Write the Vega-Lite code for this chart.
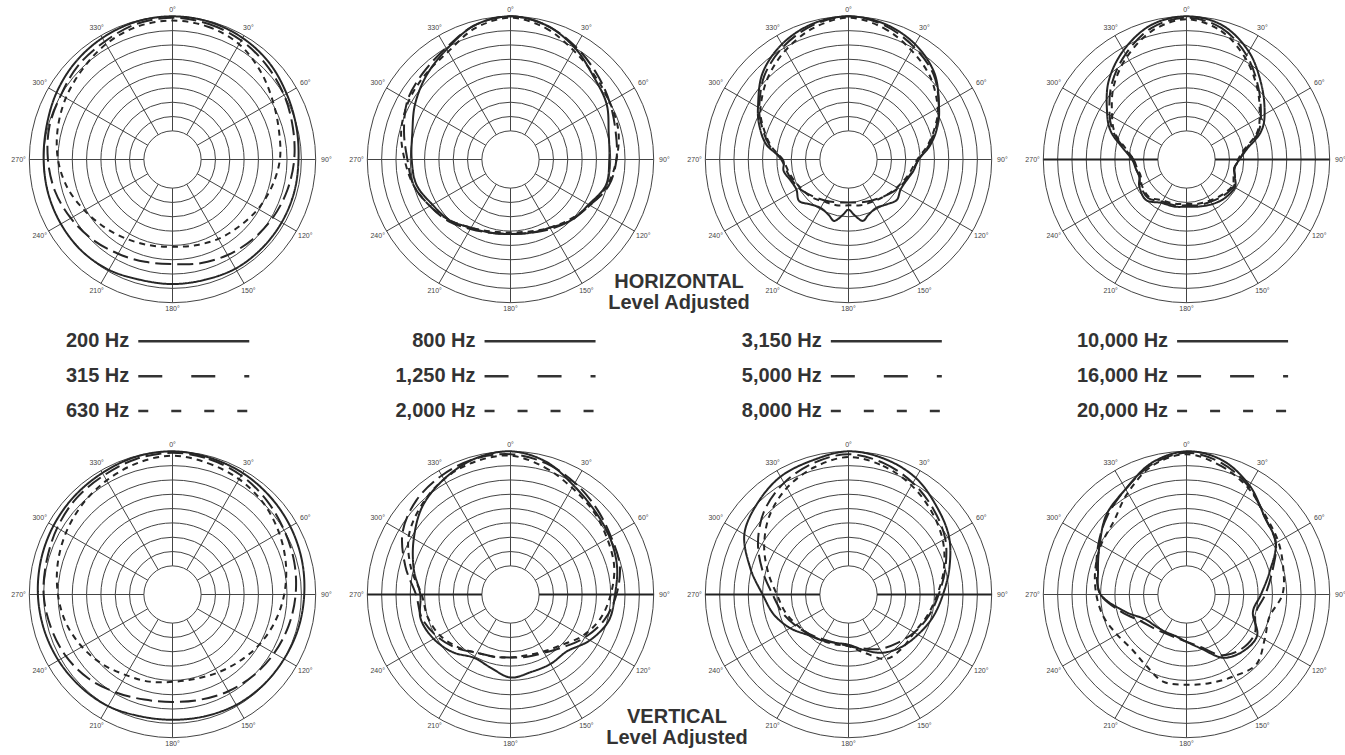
{
"$schema": "https://vega.github.io/schema/vega-lite/v6.json",
"background": "white",
"padding": {"left": 11, "top": 2, "right": 0, "bottom": 0},
"config": {"view": {"stroke": null}},
"datasets": {
"rings": [{"db":0},{"db":-5},{"db":-10},{"db":-15},{"db":-20},{"db":-25},{"db":-30},{"db":-35},{"db":-40}],
"spokes": [{"a":0,"t":"0°"},{"a":30,"t":"30°"},{"a":60,"t":"60°"},{"a":90,"t":"90°"},{"a":120,"t":"120°"},{"a":150,"t":"150°"},{"a":180,"t":"180°"},{"a":210,"t":"210°"},{"a":240,"t":"240°"},{"a":270,"t":"270°"},{"a":300,"t":"300°"},{"a":330,"t":"330°"}],
"legend": [
{"g":1,"k":1,"label":"200 Hz"},{"g":1,"k":2,"label":"315 Hz"},{"g":1,"k":3,"label":"630 Hz"},
{"g":2,"k":1,"label":"800 Hz"},{"g":2,"k":2,"label":"1,250 Hz"},{"g":2,"k":3,"label":"2,000 Hz"},
{"g":3,"k":1,"label":"3,150 Hz"},{"g":3,"k":2,"label":"5,000 Hz"},{"g":3,"k":3,"label":"8,000 Hz"},
{"g":4,"k":1,"label":"10,000 Hz"},{"g":4,"k":2,"label":"16,000 Hz"},{"g":4,"k":3,"label":"20,000 Hz"}],
"curves": [
{"p":1,"k":1,"a":0,"db":0},{"p":1,"k":1,"a":15,"db":-0.25},{"p":1,"k":1,"a":30,"db":-1},{"p":1,"k":1,"a":45,"db":-2.25},{"p":1,"k":1,"a":60,"db":-4},{"p":1,"k":1,"a":75,"db":-5.25},{"p":1,"k":1,"a":90,"db":-6},{"p":1,"k":1,"a":105,"db":-6},{"p":1,"k":1,"a":120,"db":-6},{"p":1,"k":1,"a":135,"db":-6},{"p":1,"k":1,"a":150,"db":-6},{"p":1,"k":1,"a":165,"db":-6.5},{"p":1,"k":1,"a":180,"db":-6.5},{"p":1,"k":1,"a":195,"db":-6.5},{"p":1,"k":1,"a":210,"db":-5.5},{"p":1,"k":1,"a":225,"db":-5},{"p":1,"k":1,"a":240,"db":-5},{"p":1,"k":1,"a":255,"db":-5},{"p":1,"k":1,"a":270,"db":-5},{"p":1,"k":1,"a":285,"db":-4.5},{"p":1,"k":1,"a":300,"db":-3.25},{"p":1,"k":1,"a":315,"db":-2},{"p":1,"k":1,"a":330,"db":-1},{"p":1,"k":1,"a":345,"db":-0.25},
{"p":1,"k":2,"a":0,"db":-0.5},{"p":1,"k":2,"a":15,"db":-1},{"p":1,"k":2,"a":30,"db":-2},{"p":1,"k":2,"a":45,"db":-3.5},{"p":1,"k":2,"a":60,"db":-5},{"p":1,"k":2,"a":75,"db":-6.5},{"p":1,"k":2,"a":90,"db":-7.5},{"p":1,"k":2,"a":105,"db":-8.5},{"p":1,"k":2,"a":120,"db":-9.5},{"p":1,"k":2,"a":135,"db":-10.5},{"p":1,"k":2,"a":150,"db":-11.5},{"p":1,"k":2,"a":165,"db":-12.5},{"p":1,"k":2,"a":180,"db":-13.5},{"p":1,"k":2,"a":195,"db":-13},{"p":1,"k":2,"a":210,"db":-12},{"p":1,"k":2,"a":225,"db":-10.5},{"p":1,"k":2,"a":240,"db":-9},{"p":1,"k":2,"a":255,"db":-7.5},{"p":1,"k":2,"a":270,"db":-6.5},{"p":1,"k":2,"a":285,"db":-5.5},{"p":1,"k":2,"a":300,"db":-5},{"p":1,"k":2,"a":315,"db":-3.5},{"p":1,"k":2,"a":330,"db":-2.5},{"p":1,"k":2,"a":345,"db":-1},
{"p":1,"k":3,"a":0,"db":-1.5},{"p":1,"k":3,"a":15,"db":-2},{"p":1,"k":3,"a":30,"db":-3.5},{"p":1,"k":3,"a":45,"db":-6.5},{"p":1,"k":3,"a":60,"db":-9.5},{"p":1,"k":3,"a":75,"db":-11.5},{"p":1,"k":3,"a":90,"db":-12.5},{"p":1,"k":3,"a":105,"db":-14},{"p":1,"k":3,"a":120,"db":-15.5},{"p":1,"k":3,"a":135,"db":-17},{"p":1,"k":3,"a":150,"db":-18},{"p":1,"k":3,"a":165,"db":-19},{"p":1,"k":3,"a":180,"db":-19.5},{"p":1,"k":3,"a":195,"db":-19},{"p":1,"k":3,"a":210,"db":-18},{"p":1,"k":3,"a":225,"db":-16.5},{"p":1,"k":3,"a":240,"db":-14.5},{"p":1,"k":3,"a":255,"db":-12},{"p":1,"k":3,"a":270,"db":-10},{"p":1,"k":3,"a":285,"db":-8.5},{"p":1,"k":3,"a":300,"db":-7},{"p":1,"k":3,"a":315,"db":-5.5},{"p":1,"k":3,"a":330,"db":-3.5},{"p":1,"k":3,"a":345,"db":-2},
{"p":2,"k":1,"a":0,"db":0},{"p":2,"k":1,"a":15,"db":-1.5},{"p":2,"k":1,"a":30,"db":-5},{"p":2,"k":1,"a":45,"db":-9},{"p":2,"k":1,"a":60,"db":-11.25},{"p":2,"k":1,"a":75,"db":-14.5},{"p":2,"k":1,"a":90,"db":-15.5},{"p":2,"k":1,"a":105,"db":-15.5},{"p":2,"k":1,"a":120,"db":-18.5},{"p":2,"k":1,"a":135,"db":-20},{"p":2,"k":1,"a":150,"db":-22.5},{"p":2,"k":1,"a":165,"db":-23.5},{"p":2,"k":1,"a":180,"db":-24},{"p":2,"k":1,"a":195,"db":-23.5},{"p":2,"k":1,"a":210,"db":-22.5},{"p":2,"k":1,"a":225,"db":-20},{"p":2,"k":1,"a":240,"db":-18.5},{"p":2,"k":1,"a":255,"db":-16},{"p":2,"k":1,"a":270,"db":-15.5},{"p":2,"k":1,"a":285,"db":-14.5},{"p":2,"k":1,"a":300,"db":-11.5},{"p":2,"k":1,"a":315,"db":-8.5},{"p":2,"k":1,"a":330,"db":-5.5},{"p":2,"k":1,"a":345,"db":-1.5},
{"p":2,"k":2,"a":0,"db":0},{"p":2,"k":2,"a":15,"db":-1.5},{"p":2,"k":2,"a":30,"db":-4.5},{"p":2,"k":2,"a":45,"db":-7.5},{"p":2,"k":2,"a":60,"db":-10},{"p":2,"k":2,"a":75,"db":-12},{"p":2,"k":2,"a":90,"db":-13},{"p":2,"k":2,"a":105,"db":-14.5},{"p":2,"k":2,"a":120,"db":-18},{"p":2,"k":2,"a":135,"db":-20},{"p":2,"k":2,"a":150,"db":-22},{"p":2,"k":2,"a":165,"db":-23.5},{"p":2,"k":2,"a":180,"db":-24},{"p":2,"k":2,"a":195,"db":-23.5},{"p":2,"k":2,"a":210,"db":-22},{"p":2,"k":2,"a":225,"db":-19.5},{"p":2,"k":2,"a":240,"db":-17.5},{"p":2,"k":2,"a":255,"db":-15},{"p":2,"k":2,"a":270,"db":-14},{"p":2,"k":2,"a":285,"db":-11.5},{"p":2,"k":2,"a":300,"db":-8.5},{"p":2,"k":2,"a":315,"db":-7},{"p":2,"k":2,"a":330,"db":-5},{"p":2,"k":2,"a":345,"db":-1.5},
{"p":2,"k":3,"a":0,"db":-0.5},{"p":2,"k":3,"a":15,"db":-2.5},{"p":2,"k":3,"a":30,"db":-6},{"p":2,"k":3,"a":45,"db":-8.5},{"p":2,"k":3,"a":60,"db":-10},{"p":2,"k":3,"a":75,"db":-11},{"p":2,"k":3,"a":90,"db":-13},{"p":2,"k":3,"a":105,"db":-15},{"p":2,"k":3,"a":120,"db":-18},{"p":2,"k":3,"a":135,"db":-20.5},{"p":2,"k":3,"a":150,"db":-22.5},{"p":2,"k":3,"a":165,"db":-24},{"p":2,"k":3,"a":180,"db":-24.5},{"p":2,"k":3,"a":195,"db":-24},{"p":2,"k":3,"a":210,"db":-22.5},{"p":2,"k":3,"a":225,"db":-20},{"p":2,"k":3,"a":240,"db":-17.5},{"p":2,"k":3,"a":255,"db":-15},{"p":2,"k":3,"a":270,"db":-13},{"p":2,"k":3,"a":285,"db":-10.5},{"p":2,"k":3,"a":300,"db":-9},{"p":2,"k":3,"a":315,"db":-8},{"p":2,"k":3,"a":330,"db":-6.5},{"p":2,"k":3,"a":345,"db":-2.5},
{"p":3,"k":1,"a":0,"db":0},{"p":3,"k":1,"a":15,"db":-1},{"p":3,"k":1,"a":30,"db":-3.5},{"p":3,"k":1,"a":45,"db":-7.5},{"p":3,"k":1,"a":60,"db":-13.5},{"p":3,"k":1,"a":70,"db":-17},{"p":3,"k":1,"a":80,"db":-21},{"p":3,"k":1,"a":90,"db":-25.5},{"p":3,"k":1,"a":100,"db":-27},{"p":3,"k":1,"a":110,"db":-28.5},{"p":3,"k":1,"a":120,"db":-29},{"p":3,"k":1,"a":130,"db":-28},{"p":3,"k":1,"a":140,"db":-29.5},{"p":3,"k":1,"a":150,"db":-30.5},{"p":3,"k":1,"a":160,"db":-29.5},{"p":3,"k":1,"a":167,"db":-28},{"p":3,"k":1,"a":174,"db":-30.5},{"p":3,"k":1,"a":180,"db":-32.5},{"p":3,"k":1,"a":186,"db":-30.5},{"p":3,"k":1,"a":193,"db":-28},{"p":3,"k":1,"a":200,"db":-29.5},{"p":3,"k":1,"a":210,"db":-30.5},{"p":3,"k":1,"a":220,"db":-29.5},{"p":3,"k":1,"a":230,"db":-27.5},{"p":3,"k":1,"a":240,"db":-29},{"p":3,"k":1,"a":250,"db":-28.5},{"p":3,"k":1,"a":260,"db":-27},{"p":3,"k":1,"a":270,"db":-27},{"p":3,"k":1,"a":280,"db":-21},{"p":3,"k":1,"a":290,"db":-17},{"p":3,"k":1,"a":300,"db":-13.5},{"p":3,"k":1,"a":315,"db":-7.5},{"p":3,"k":1,"a":330,"db":-3.5},{"p":3,"k":1,"a":345,"db":-1},
{"p":3,"k":2,"a":0,"db":0},{"p":3,"k":2,"a":15,"db":-1.5},{"p":3,"k":2,"a":30,"db":-4.5},{"p":3,"k":2,"a":45,"db":-8},{"p":3,"k":2,"a":60,"db":-13.5},{"p":3,"k":2,"a":70,"db":-17.5},{"p":3,"k":2,"a":80,"db":-21.5},{"p":3,"k":2,"a":90,"db":-25.5},{"p":3,"k":2,"a":105,"db":-28},{"p":3,"k":2,"a":120,"db":-30},{"p":3,"k":2,"a":135,"db":-32},{"p":3,"k":2,"a":150,"db":-33.5},{"p":3,"k":2,"a":165,"db":-34.5},{"p":3,"k":2,"a":180,"db":-35},{"p":3,"k":2,"a":195,"db":-34.5},{"p":3,"k":2,"a":210,"db":-33.5},{"p":3,"k":2,"a":225,"db":-32},{"p":3,"k":2,"a":240,"db":-30},{"p":3,"k":2,"a":255,"db":-28.5},{"p":3,"k":2,"a":270,"db":-26.5},{"p":3,"k":2,"a":280,"db":-22},{"p":3,"k":2,"a":290,"db":-18},{"p":3,"k":2,"a":300,"db":-14},{"p":3,"k":2,"a":315,"db":-8.5},{"p":3,"k":2,"a":330,"db":-4.5},{"p":3,"k":2,"a":345,"db":-1.5},
{"p":3,"k":3,"a":0,"db":-0.5},{"p":3,"k":3,"a":15,"db":-2.5},{"p":3,"k":3,"a":30,"db":-6},{"p":3,"k":3,"a":45,"db":-9.5},{"p":3,"k":3,"a":60,"db":-14},{"p":3,"k":3,"a":70,"db":-18},{"p":3,"k":3,"a":80,"db":-22},{"p":3,"k":3,"a":90,"db":-26},{"p":3,"k":3,"a":105,"db":-28.5},{"p":3,"k":3,"a":120,"db":-30.5},{"p":3,"k":3,"a":135,"db":-32},{"p":3,"k":3,"a":150,"db":-33},{"p":3,"k":3,"a":165,"db":-33.5},{"p":3,"k":3,"a":180,"db":-34},{"p":3,"k":3,"a":195,"db":-33.5},{"p":3,"k":3,"a":210,"db":-33},{"p":3,"k":3,"a":225,"db":-31.5},{"p":3,"k":3,"a":240,"db":-30.5},{"p":3,"k":3,"a":255,"db":-29},{"p":3,"k":3,"a":270,"db":-27},{"p":3,"k":3,"a":280,"db":-22.5},{"p":3,"k":3,"a":290,"db":-18.5},{"p":3,"k":3,"a":300,"db":-14.5},{"p":3,"k":3,"a":315,"db":-10},{"p":3,"k":3,"a":330,"db":-6},{"p":3,"k":3,"a":345,"db":-2.5},
{"p":4,"k":1,"a":0,"db":0},{"p":4,"k":1,"a":15,"db":-1.5},{"p":4,"k":1,"a":30,"db":-6.5},{"p":4,"k":1,"a":45,"db":-13},{"p":4,"k":1,"a":60,"db":-18.5},{"p":4,"k":1,"a":70,"db":-22.5},{"p":4,"k":1,"a":80,"db":-28.5},{"p":4,"k":1,"a":90,"db":-31.5},{"p":4,"k":1,"a":100,"db":-33},{"p":4,"k":1,"a":110,"db":-32},{"p":4,"k":1,"a":120,"db":-30.5},{"p":4,"k":1,"a":135,"db":-31},{"p":4,"k":1,"a":150,"db":-32},{"p":4,"k":1,"a":165,"db":-33},{"p":4,"k":1,"a":180,"db":-33.5},{"p":4,"k":1,"a":195,"db":-33},{"p":4,"k":1,"a":210,"db":-32.5},{"p":4,"k":1,"a":225,"db":-30},{"p":4,"k":1,"a":240,"db":-31},{"p":4,"k":1,"a":250,"db":-32.5},{"p":4,"k":1,"a":260,"db":-32},{"p":4,"k":1,"a":270,"db":-31},{"p":4,"k":1,"a":280,"db":-27.5},{"p":4,"k":1,"a":290,"db":-22},{"p":4,"k":1,"a":300,"db":-18},{"p":4,"k":1,"a":315,"db":-11.5},{"p":4,"k":1,"a":330,"db":-6},{"p":4,"k":1,"a":345,"db":-1.5},
{"p":4,"k":2,"a":0,"db":-0.5},{"p":4,"k":2,"a":15,"db":-2.5},{"p":4,"k":2,"a":30,"db":-8},{"p":4,"k":2,"a":45,"db":-14.5},{"p":4,"k":2,"a":60,"db":-20},{"p":4,"k":2,"a":70,"db":-23.5},{"p":4,"k":2,"a":80,"db":-29},{"p":4,"k":2,"a":90,"db":-31.5},{"p":4,"k":2,"a":100,"db":-33},{"p":4,"k":2,"a":110,"db":-32},{"p":4,"k":2,"a":120,"db":-31},{"p":4,"k":2,"a":135,"db":-32},{"p":4,"k":2,"a":150,"db":-33},{"p":4,"k":2,"a":165,"db":-33.5},{"p":4,"k":2,"a":180,"db":-34},{"p":4,"k":2,"a":195,"db":-33.5},{"p":4,"k":2,"a":210,"db":-33},{"p":4,"k":2,"a":225,"db":-31},{"p":4,"k":2,"a":240,"db":-31.5},{"p":4,"k":2,"a":250,"db":-32.5},{"p":4,"k":2,"a":260,"db":-32},{"p":4,"k":2,"a":270,"db":-31.5},{"p":4,"k":2,"a":280,"db":-28},{"p":4,"k":2,"a":290,"db":-23},{"p":4,"k":2,"a":300,"db":-19},{"p":4,"k":2,"a":315,"db":-13},{"p":4,"k":2,"a":330,"db":-7.5},{"p":4,"k":2,"a":345,"db":-2.5},
{"p":4,"k":3,"a":0,"db":-1},{"p":4,"k":3,"a":15,"db":-3.5},{"p":4,"k":3,"a":30,"db":-9},{"p":4,"k":3,"a":45,"db":-15},{"p":4,"k":3,"a":60,"db":-20.5},{"p":4,"k":3,"a":70,"db":-24},{"p":4,"k":3,"a":80,"db":-29.5},{"p":4,"k":3,"a":90,"db":-32},{"p":4,"k":3,"a":100,"db":-33},{"p":4,"k":3,"a":110,"db":-32.5},{"p":4,"k":3,"a":120,"db":-31.5},{"p":4,"k":3,"a":135,"db":-32.5},{"p":4,"k":3,"a":150,"db":-33.5},{"p":4,"k":3,"a":165,"db":-34},{"p":4,"k":3,"a":180,"db":-34.5},{"p":4,"k":3,"a":195,"db":-34},{"p":4,"k":3,"a":210,"db":-33.5},{"p":4,"k":3,"a":225,"db":-31.5},{"p":4,"k":3,"a":240,"db":-32},{"p":4,"k":3,"a":250,"db":-33},{"p":4,"k":3,"a":260,"db":-32.5},{"p":4,"k":3,"a":270,"db":-31.5},{"p":4,"k":3,"a":280,"db":-28.5},{"p":4,"k":3,"a":290,"db":-23.5},{"p":4,"k":3,"a":300,"db":-20},{"p":4,"k":3,"a":315,"db":-14},{"p":4,"k":3,"a":330,"db":-8.5},{"p":4,"k":3,"a":345,"db":-3.5},
{"p":5,"k":1,"a":0,"db":0},{"p":5,"k":1,"a":15,"db":-0.5},{"p":5,"k":1,"a":30,"db":-1},{"p":5,"k":1,"a":45,"db":-1.75},{"p":5,"k":1,"a":60,"db":-2.5},{"p":5,"k":1,"a":75,"db":-3.25},{"p":5,"k":1,"a":90,"db":-4},{"p":5,"k":1,"a":105,"db":-4.5},{"p":5,"k":1,"a":120,"db":-5},{"p":5,"k":1,"a":135,"db":-5.25},{"p":5,"k":1,"a":150,"db":-5.5},{"p":5,"k":1,"a":165,"db":-6},{"p":5,"k":1,"a":180,"db":-6.25},{"p":5,"k":1,"a":195,"db":-6},{"p":5,"k":1,"a":210,"db":-5},{"p":5,"k":1,"a":225,"db":-4.5},{"p":5,"k":1,"a":240,"db":-4},{"p":5,"k":1,"a":255,"db":-3.5},{"p":5,"k":1,"a":270,"db":-3},{"p":5,"k":1,"a":285,"db":-2.5},{"p":5,"k":1,"a":300,"db":-2},{"p":5,"k":1,"a":315,"db":-1.5},{"p":5,"k":1,"a":330,"db":-1},{"p":5,"k":1,"a":345,"db":-0.25},
{"p":5,"k":2,"a":0,"db":-0.5},{"p":5,"k":2,"a":15,"db":-1},{"p":5,"k":2,"a":30,"db":-2},{"p":5,"k":2,"a":45,"db":-3.5},{"p":5,"k":2,"a":60,"db":-5},{"p":5,"k":2,"a":75,"db":-6},{"p":5,"k":2,"a":90,"db":-7},{"p":5,"k":2,"a":105,"db":-8},{"p":5,"k":2,"a":120,"db":-9},{"p":5,"k":2,"a":135,"db":-10},{"p":5,"k":2,"a":150,"db":-11},{"p":5,"k":2,"a":165,"db":-12},{"p":5,"k":2,"a":180,"db":-12.5},{"p":5,"k":2,"a":195,"db":-12},{"p":5,"k":2,"a":210,"db":-10.5},{"p":5,"k":2,"a":225,"db":-8.5},{"p":5,"k":2,"a":240,"db":-7},{"p":5,"k":2,"a":255,"db":-6},{"p":5,"k":2,"a":270,"db":-5},{"p":5,"k":2,"a":285,"db":-4.5},{"p":5,"k":2,"a":300,"db":-3.5},{"p":5,"k":2,"a":315,"db":-2.5},{"p":5,"k":2,"a":330,"db":-2},{"p":5,"k":2,"a":345,"db":-1},
{"p":5,"k":3,"a":0,"db":-1.5},{"p":5,"k":3,"a":15,"db":-2.5},{"p":5,"k":3,"a":30,"db":-3.5},{"p":5,"k":3,"a":45,"db":-5},{"p":5,"k":3,"a":60,"db":-7},{"p":5,"k":3,"a":75,"db":-9},{"p":5,"k":3,"a":90,"db":-11},{"p":5,"k":3,"a":105,"db":-13},{"p":5,"k":3,"a":120,"db":-15},{"p":5,"k":3,"a":135,"db":-17},{"p":5,"k":3,"a":150,"db":-18.5},{"p":5,"k":3,"a":165,"db":-19.5},{"p":5,"k":3,"a":180,"db":-19.5},{"p":5,"k":3,"a":195,"db":-18.5},{"p":5,"k":3,"a":210,"db":-17.5},{"p":5,"k":3,"a":225,"db":-15.5},{"p":5,"k":3,"a":240,"db":-13.5},{"p":5,"k":3,"a":255,"db":-11.5},{"p":5,"k":3,"a":270,"db":-10},{"p":5,"k":3,"a":285,"db":-8.5},{"p":5,"k":3,"a":300,"db":-7},{"p":5,"k":3,"a":315,"db":-5.5},{"p":5,"k":3,"a":330,"db":-4},{"p":5,"k":3,"a":345,"db":-2.5},
{"p":6,"k":1,"a":0,"db":0},{"p":6,"k":1,"a":15,"db":-2},{"p":6,"k":1,"a":30,"db":-6},{"p":6,"k":1,"a":45,"db":-8.5},{"p":6,"k":1,"a":60,"db":-10},{"p":6,"k":1,"a":75,"db":-11.5},{"p":6,"k":1,"a":90,"db":-13.5},{"p":6,"k":1,"a":105,"db":-14.5},{"p":6,"k":1,"a":120,"db":-18},{"p":6,"k":1,"a":135,"db":-22},{"p":6,"k":1,"a":150,"db":-22},{"p":6,"k":1,"a":165,"db":-22},{"p":6,"k":1,"a":180,"db":-21},{"p":6,"k":1,"a":195,"db":-23.5},{"p":6,"k":1,"a":210,"db":-24.5},{"p":6,"k":1,"a":225,"db":-21.5},{"p":6,"k":1,"a":240,"db":-19},{"p":6,"k":1,"a":255,"db":-17.5},{"p":6,"k":1,"a":270,"db":-18.5},{"p":6,"k":1,"a":285,"db":-15},{"p":6,"k":1,"a":300,"db":-11},{"p":6,"k":1,"a":315,"db":-6.5},{"p":6,"k":1,"a":330,"db":-3.5},{"p":6,"k":1,"a":345,"db":-1},
{"p":6,"k":2,"a":0,"db":-1},{"p":6,"k":2,"a":15,"db":-2.5},{"p":6,"k":2,"a":30,"db":-5},{"p":6,"k":2,"a":45,"db":-7.5},{"p":6,"k":2,"a":60,"db":-9.5},{"p":6,"k":2,"a":75,"db":-10.5},{"p":6,"k":2,"a":90,"db":-13},{"p":6,"k":2,"a":105,"db":-16},{"p":6,"k":2,"a":120,"db":-20},{"p":6,"k":2,"a":135,"db":-24},{"p":6,"k":2,"a":150,"db":-26.5},{"p":6,"k":2,"a":165,"db":-27.5},{"p":6,"k":2,"a":180,"db":-28},{"p":6,"k":2,"a":195,"db":-27.5},{"p":6,"k":2,"a":210,"db":-26.5},{"p":6,"k":2,"a":225,"db":-23.5},{"p":6,"k":2,"a":240,"db":-20.5},{"p":6,"k":2,"a":255,"db":-18},{"p":6,"k":2,"a":270,"db":-17},{"p":6,"k":2,"a":285,"db":-12},{"p":6,"k":2,"a":300,"db":-6.5},{"p":6,"k":2,"a":315,"db":-3.5},{"p":6,"k":2,"a":330,"db":-2},{"p":6,"k":2,"a":345,"db":-1},
{"p":6,"k":3,"a":0,"db":-1.5},{"p":6,"k":3,"a":15,"db":-4},{"p":6,"k":3,"a":30,"db":-7},{"p":6,"k":3,"a":45,"db":-9},{"p":6,"k":3,"a":60,"db":-11},{"p":6,"k":3,"a":75,"db":-12.5},{"p":6,"k":3,"a":90,"db":-15},{"p":6,"k":3,"a":105,"db":-17.5},{"p":6,"k":3,"a":120,"db":-21},{"p":6,"k":3,"a":135,"db":-25},{"p":6,"k":3,"a":150,"db":-27},{"p":6,"k":3,"a":165,"db":-28},{"p":6,"k":3,"a":180,"db":-28},{"p":6,"k":3,"a":195,"db":-27.5},{"p":6,"k":3,"a":210,"db":-26.5},{"p":6,"k":3,"a":225,"db":-24},{"p":6,"k":3,"a":240,"db":-21.5},{"p":6,"k":3,"a":255,"db":-20},{"p":6,"k":3,"a":270,"db":-19},{"p":6,"k":3,"a":285,"db":-14},{"p":6,"k":3,"a":300,"db":-9},{"p":6,"k":3,"a":315,"db":-6},{"p":6,"k":3,"a":330,"db":-3.5},{"p":6,"k":3,"a":345,"db":-2},
{"p":7,"k":1,"a":0,"db":0},{"p":7,"k":1,"a":15,"db":-1},{"p":7,"k":1,"a":30,"db":-3},{"p":7,"k":1,"a":45,"db":-6.5},{"p":7,"k":1,"a":60,"db":-9.5},{"p":7,"k":1,"a":75,"db":-13.5},{"p":7,"k":1,"a":90,"db":-17},{"p":7,"k":1,"a":105,"db":-19.5},{"p":7,"k":1,"a":120,"db":-22},{"p":7,"k":1,"a":135,"db":-24},{"p":7,"k":1,"a":150,"db":-26.5},{"p":7,"k":1,"a":165,"db":-30},{"p":7,"k":1,"a":180,"db":-32.5},{"p":7,"k":1,"a":195,"db":-32.5},{"p":7,"k":1,"a":210,"db":-31.5},{"p":7,"k":1,"a":225,"db":-30},{"p":7,"k":1,"a":240,"db":-26.5},{"p":7,"k":1,"a":255,"db":-23},{"p":7,"k":1,"a":270,"db":-20},{"p":7,"k":1,"a":285,"db":-14.5},{"p":7,"k":1,"a":300,"db":-8},{"p":7,"k":1,"a":315,"db":-5},{"p":7,"k":1,"a":330,"db":-2.5},{"p":7,"k":1,"a":345,"db":-1.5},
{"p":7,"k":2,"a":0,"db":-1},{"p":7,"k":2,"a":15,"db":-2.5},{"p":7,"k":2,"a":30,"db":-5},{"p":7,"k":2,"a":45,"db":-8},{"p":7,"k":2,"a":60,"db":-11},{"p":7,"k":2,"a":75,"db":-15},{"p":7,"k":2,"a":90,"db":-18.5},{"p":7,"k":2,"a":105,"db":-21},{"p":7,"k":2,"a":120,"db":-23.5},{"p":7,"k":2,"a":135,"db":-26},{"p":7,"k":2,"a":150,"db":-28},{"p":7,"k":2,"a":165,"db":-30.5},{"p":7,"k":2,"a":180,"db":-32},{"p":7,"k":2,"a":195,"db":-32.5},{"p":7,"k":2,"a":210,"db":-32},{"p":7,"k":2,"a":225,"db":-30.5},{"p":7,"k":2,"a":240,"db":-28.5},{"p":7,"k":2,"a":255,"db":-26},{"p":7,"k":2,"a":270,"db":-23.5},{"p":7,"k":2,"a":285,"db":-19},{"p":7,"k":2,"a":300,"db":-13.5},{"p":7,"k":2,"a":315,"db":-8.5},{"p":7,"k":2,"a":330,"db":-5},{"p":7,"k":2,"a":345,"db":-2.5},
{"p":7,"k":3,"a":0,"db":-2},{"p":7,"k":3,"a":15,"db":-3.5},{"p":7,"k":3,"a":30,"db":-6},{"p":7,"k":3,"a":45,"db":-9},{"p":7,"k":3,"a":60,"db":-12},{"p":7,"k":3,"a":75,"db":-15.5},{"p":7,"k":3,"a":90,"db":-19},{"p":7,"k":3,"a":105,"db":-21.5},{"p":7,"k":3,"a":120,"db":-23.5},{"p":7,"k":3,"a":135,"db":-23.5},{"p":7,"k":3,"a":150,"db":-24},{"p":7,"k":3,"a":165,"db":-29},{"p":7,"k":3,"a":180,"db":-32},{"p":7,"k":3,"a":195,"db":-32},{"p":7,"k":3,"a":210,"db":-31.5},{"p":7,"k":3,"a":225,"db":-30.5},{"p":7,"k":3,"a":240,"db":-29},{"p":7,"k":3,"a":255,"db":-27},{"p":7,"k":3,"a":270,"db":-25},{"p":7,"k":3,"a":285,"db":-21},{"p":7,"k":3,"a":300,"db":-16},{"p":7,"k":3,"a":315,"db":-11},{"p":7,"k":3,"a":330,"db":-7},{"p":7,"k":3,"a":345,"db":-4},
{"p":8,"k":1,"a":0,"db":0},{"p":8,"k":1,"a":15,"db":-1.5},{"p":8,"k":1,"a":30,"db":-6},{"p":8,"k":1,"a":45,"db":-11.5},{"p":8,"k":1,"a":60,"db":-14},{"p":8,"k":1,"a":75,"db":-20},{"p":8,"k":1,"a":90,"db":-24},{"p":8,"k":1,"a":105,"db":-26},{"p":8,"k":1,"a":120,"db":-21.5},{"p":8,"k":1,"a":135,"db":-22},{"p":8,"k":1,"a":150,"db":-24.5},{"p":8,"k":1,"a":165,"db":-30.5},{"p":8,"k":1,"a":180,"db":-33.5},{"p":8,"k":1,"a":195,"db":-35},{"p":8,"k":1,"a":210,"db":-35},{"p":8,"k":1,"a":225,"db":-34.5},{"p":8,"k":1,"a":240,"db":-33},{"p":8,"k":1,"a":255,"db":-27.5},{"p":8,"k":1,"a":270,"db":-20},{"p":8,"k":1,"a":285,"db":-18},{"p":8,"k":1,"a":300,"db":-15},{"p":8,"k":1,"a":315,"db":-10.5},{"p":8,"k":1,"a":330,"db":-7.5},{"p":8,"k":1,"a":345,"db":-2.5},
{"p":8,"k":2,"a":0,"db":-0.5},{"p":8,"k":2,"a":15,"db":-2.5},{"p":8,"k":2,"a":30,"db":-6.5},{"p":8,"k":2,"a":45,"db":-11.5},{"p":8,"k":2,"a":60,"db":-14},{"p":8,"k":2,"a":75,"db":-19},{"p":8,"k":2,"a":90,"db":-22.5},{"p":8,"k":2,"a":105,"db":-25},{"p":8,"k":2,"a":120,"db":-22.5},{"p":8,"k":2,"a":135,"db":-23},{"p":8,"k":2,"a":150,"db":-25.5},{"p":8,"k":2,"a":165,"db":-31},{"p":8,"k":2,"a":180,"db":-33.5},{"p":8,"k":2,"a":195,"db":-34.5},{"p":8,"k":2,"a":210,"db":-34.5},{"p":8,"k":2,"a":225,"db":-33.5},{"p":8,"k":2,"a":240,"db":-31.5},{"p":8,"k":2,"a":255,"db":-26.5},{"p":8,"k":2,"a":270,"db":-20},{"p":8,"k":2,"a":285,"db":-17.5},{"p":8,"k":2,"a":300,"db":-14.5},{"p":8,"k":2,"a":315,"db":-11},{"p":8,"k":2,"a":330,"db":-7.5},{"p":8,"k":2,"a":345,"db":-3},
{"p":8,"k":3,"a":0,"db":-1},{"p":8,"k":3,"a":15,"db":-3.5},{"p":8,"k":3,"a":30,"db":-7},{"p":8,"k":3,"a":45,"db":-11},{"p":8,"k":3,"a":60,"db":-13},{"p":8,"k":3,"a":75,"db":-15},{"p":8,"k":3,"a":90,"db":-16.5},{"p":8,"k":3,"a":105,"db":-20},{"p":8,"k":3,"a":120,"db":-18.5},{"p":8,"k":3,"a":135,"db":-15.5},{"p":8,"k":3,"a":150,"db":-17},{"p":8,"k":3,"a":165,"db":-18},{"p":8,"k":3,"a":180,"db":-18.5},{"p":8,"k":3,"a":195,"db":-18.5},{"p":8,"k":3,"a":210,"db":-21.5},{"p":8,"k":3,"a":225,"db":-23},{"p":8,"k":3,"a":240,"db":-22},{"p":8,"k":3,"a":255,"db":-20},{"p":8,"k":3,"a":270,"db":-18.5},{"p":8,"k":3,"a":285,"db":-17},{"p":8,"k":3,"a":300,"db":-15.5},{"p":8,"k":3,"a":315,"db":-14},{"p":8,"k":3,"a":330,"db":-9},{"p":8,"k":3,"a":345,"db":-3.5}
]
},
"spacing": 0,
"resolve": {"scale": {"x": "independent", "y": "independent", "size": "independent", "strokeDash": "independent"}},
"vconcat": [
{"hconcat": [
 {"width": 315, "height": 315, "layer": [
  {"data": {"name": "rings"}, "transform": [{"calculate": "1 + datum.db / 50", "as": "rn"}], "mark": {"type": "point", "shape": "circle", "filled": false, "stroke": "#444", "strokeWidth": 1, "opacity": 1}, "encoding": {"x": {"datum": 0, "type": "quantitative", "scale": {"domain": [-1.1, 1.1], "nice": false, "zero": false}, "axis": null}, "y": {"datum": 0, "type": "quantitative", "scale": {"domain": [-1.1, 1.1], "nice": false, "zero": false}, "axis": null}, "size": {"field": "rn", "type": "quantitative", "scale": {"type": "pow", "exponent": 2, "domain": [0, 1], "range": [0, 82002]}, "legend": null}}},
  {"data": {"name": "spokes"}, "transform": [{"calculate": "0.2 * sin(datum.a * PI / 180)", "as": "x1"}, {"calculate": "0.2 * cos(datum.a * PI / 180)", "as": "y1"}, {"calculate": "sin(datum.a * PI / 180)", "as": "x2"}, {"calculate": "cos(datum.a * PI / 180)", "as": "y2"}], "mark": {"type": "rule", "stroke": "#444", "strokeWidth": 1}, "encoding": {"x": {"field": "x1", "type": "quantitative", "axis": null}, "y": {"field": "y1", "type": "quantitative", "axis": null}, "x2": {"field": "x2"}, "y2": {"field": "y2"}}},
  {"data": {"name": "spokes"}, "transform": [{"calculate": "(1.045 + 0.03 * abs(sin(datum.a * PI / 180))) * sin(datum.a * PI / 180)", "as": "lx"}, {"calculate": "(1.045 + 0.03 * abs(sin(datum.a * PI / 180))) * cos(datum.a * PI / 180)", "as": "ly"}], "mark": {"type": "text", "fontSize": 7, "font": "Liberation Sans", "fill": "#444", "align": "center", "baseline": "middle"}, "encoding": {"x": {"field": "lx", "type": "quantitative", "axis": null}, "y": {"field": "ly", "type": "quantitative", "axis": null}, "text": {"field": "t"}}},
  {"data": {"name": "curves"}, "transform": [{"filter": "datum.p == 1"}, {"calculate": "1 + datum.db / 50", "as": "rn"}, {"calculate": "datum.rn * sin(datum.a * PI / 180)", "as": "cx"}, {"calculate": "datum.rn * cos(datum.a * PI / 180)", "as": "cy"}], "mark": {"type": "line", "interpolate": "cardinal-closed", "stroke": "#262626", "strokeWidth": 2}, "encoding": {"x": {"field": "cx", "type": "quantitative", "axis": null}, "y": {"field": "cy", "type": "quantitative", "axis": null}, "order": {"field": "a", "type": "quantitative"}, "strokeDash": {"field": "k", "type": "nominal", "scale": {"domain": [1, 2, 3], "range": [[1, 0], [16, 6], [6, 5]]}, "legend": null}}}
 ]},
 {"width": 315, "height": 315, "layer": [
  {"data": {"name": "rings"}, "transform": [{"calculate": "1 + datum.db / 50", "as": "rn"}], "mark": {"type": "point", "shape": "circle", "filled": false, "stroke": "#444", "strokeWidth": 1, "opacity": 1}, "encoding": {"x": {"datum": 0, "type": "quantitative", "scale": {"domain": [-1.1, 1.1], "nice": false, "zero": false}, "axis": null}, "y": {"datum": 0, "type": "quantitative", "scale": {"domain": [-1.1, 1.1], "nice": false, "zero": false}, "axis": null}, "size": {"field": "rn", "type": "quantitative", "scale": {"type": "pow", "exponent": 2, "domain": [0, 1], "range": [0, 82002]}, "legend": null}}},
  {"data": {"name": "spokes"}, "transform": [{"calculate": "0.2 * sin(datum.a * PI / 180)", "as": "x1"}, {"calculate": "0.2 * cos(datum.a * PI / 180)", "as": "y1"}, {"calculate": "sin(datum.a * PI / 180)", "as": "x2"}, {"calculate": "cos(datum.a * PI / 180)", "as": "y2"}], "mark": {"type": "rule", "stroke": "#444", "strokeWidth": 1}, "encoding": {"x": {"field": "x1", "type": "quantitative", "axis": null}, "y": {"field": "y1", "type": "quantitative", "axis": null}, "x2": {"field": "x2"}, "y2": {"field": "y2"}}},
  {"data": {"name": "spokes"}, "transform": [{"calculate": "(1.045 + 0.03 * abs(sin(datum.a * PI / 180))) * sin(datum.a * PI / 180)", "as": "lx"}, {"calculate": "(1.045 + 0.03 * abs(sin(datum.a * PI / 180))) * cos(datum.a * PI / 180)", "as": "ly"}], "mark": {"type": "text", "fontSize": 7, "font": "Liberation Sans", "fill": "#444", "align": "center", "baseline": "middle"}, "encoding": {"x": {"field": "lx", "type": "quantitative", "axis": null}, "y": {"field": "ly", "type": "quantitative", "axis": null}, "text": {"field": "t"}}},
  {"data": {"name": "curves"}, "transform": [{"filter": "datum.p == 2"}, {"calculate": "1 + datum.db / 50", "as": "rn"}, {"calculate": "datum.rn * sin(datum.a * PI / 180)", "as": "cx"}, {"calculate": "datum.rn * cos(datum.a * PI / 180)", "as": "cy"}], "mark": {"type": "line", "interpolate": "cardinal-closed", "stroke": "#262626", "strokeWidth": 2}, "encoding": {"x": {"field": "cx", "type": "quantitative", "axis": null}, "y": {"field": "cy", "type": "quantitative", "axis": null}, "order": {"field": "a", "type": "quantitative"}, "strokeDash": {"field": "k", "type": "nominal", "scale": {"domain": [1, 2, 3], "range": [[1, 0], [16, 6], [6, 5]]}, "legend": null}}},
  {"data": {"values": [{}]}, "mark": {"type": "text", "fontSize": 20, "fontWeight": "bold", "font": "Liberation Sans", "fill": "#333", "align": "center", "baseline": "middle", "lineHeight": 21}, "encoding": {"x": {"datum": 1.177, "type": "quantitative", "axis": null}, "y": {"datum": -0.856, "type": "quantitative", "axis": null}, "text": {"value": ["HORIZONTAL", "Level Adjusted"]}}}
 ]},
 {"width": 315, "height": 315, "layer": [
  {"data": {"name": "rings"}, "transform": [{"calculate": "1 + datum.db / 50", "as": "rn"}], "mark": {"type": "point", "shape": "circle", "filled": false, "stroke": "#444", "strokeWidth": 1, "opacity": 1}, "encoding": {"x": {"datum": 0, "type": "quantitative", "scale": {"domain": [-1.1, 1.1], "nice": false, "zero": false}, "axis": null}, "y": {"datum": 0, "type": "quantitative", "scale": {"domain": [-1.1, 1.1], "nice": false, "zero": false}, "axis": null}, "size": {"field": "rn", "type": "quantitative", "scale": {"type": "pow", "exponent": 2, "domain": [0, 1], "range": [0, 82002]}, "legend": null}}},
  {"data": {"name": "spokes"}, "transform": [{"calculate": "0.2 * sin(datum.a * PI / 180)", "as": "x1"}, {"calculate": "0.2 * cos(datum.a * PI / 180)", "as": "y1"}, {"calculate": "sin(datum.a * PI / 180)", "as": "x2"}, {"calculate": "cos(datum.a * PI / 180)", "as": "y2"}], "mark": {"type": "rule", "stroke": "#444", "strokeWidth": 1}, "encoding": {"x": {"field": "x1", "type": "quantitative", "axis": null}, "y": {"field": "y1", "type": "quantitative", "axis": null}, "x2": {"field": "x2"}, "y2": {"field": "y2"}}},
  {"data": {"name": "spokes"}, "transform": [{"calculate": "(1.045 + 0.03 * abs(sin(datum.a * PI / 180))) * sin(datum.a * PI / 180)", "as": "lx"}, {"calculate": "(1.045 + 0.03 * abs(sin(datum.a * PI / 180))) * cos(datum.a * PI / 180)", "as": "ly"}], "mark": {"type": "text", "fontSize": 7, "font": "Liberation Sans", "fill": "#444", "align": "center", "baseline": "middle"}, "encoding": {"x": {"field": "lx", "type": "quantitative", "axis": null}, "y": {"field": "ly", "type": "quantitative", "axis": null}, "text": {"field": "t"}}},
  {"data": {"name": "curves"}, "transform": [{"filter": "datum.p == 3"}, {"calculate": "1 + datum.db / 50", "as": "rn"}, {"calculate": "datum.rn * sin(datum.a * PI / 180)", "as": "cx"}, {"calculate": "datum.rn * cos(datum.a * PI / 180)", "as": "cy"}], "mark": {"type": "line", "interpolate": "cardinal-closed", "stroke": "#262626", "strokeWidth": 2}, "encoding": {"x": {"field": "cx", "type": "quantitative", "axis": null}, "y": {"field": "cy", "type": "quantitative", "axis": null}, "order": {"field": "a", "type": "quantitative"}, "strokeDash": {"field": "k", "type": "nominal", "scale": {"domain": [1, 2, 3], "range": [[1, 0], [16, 6], [6, 5]]}, "legend": null}}}
 ]},
 {"width": 315, "height": 315, "layer": [
  {"data": {"name": "rings"}, "transform": [{"calculate": "1 + datum.db / 50", "as": "rn"}], "mark": {"type": "point", "shape": "circle", "filled": false, "stroke": "#444", "strokeWidth": 1, "opacity": 1}, "encoding": {"x": {"datum": 0, "type": "quantitative", "scale": {"domain": [-1.1, 1.1], "nice": false, "zero": false}, "axis": null}, "y": {"datum": 0, "type": "quantitative", "scale": {"domain": [-1.1, 1.1], "nice": false, "zero": false}, "axis": null}, "size": {"field": "rn", "type": "quantitative", "scale": {"type": "pow", "exponent": 2, "domain": [0, 1], "range": [0, 82002]}, "legend": null}}},
  {"data": {"name": "spokes"}, "transform": [{"calculate": "0.2 * sin(datum.a * PI / 180)", "as": "x1"}, {"calculate": "0.2 * cos(datum.a * PI / 180)", "as": "y1"}, {"calculate": "sin(datum.a * PI / 180)", "as": "x2"}, {"calculate": "cos(datum.a * PI / 180)", "as": "y2"}], "mark": {"type": "rule", "stroke": "#444", "strokeWidth": 1}, "encoding": {"x": {"field": "x1", "type": "quantitative", "axis": null}, "y": {"field": "y1", "type": "quantitative", "axis": null}, "x2": {"field": "x2"}, "y2": {"field": "y2"}}},
  {"data": {"name": "spokes"}, "transform": [{"filter": "datum.a == 90 || datum.a == 270"}, {"calculate": "0.2 * sin(datum.a * PI / 180)", "as": "x1"}, {"calculate": "0.2 * cos(datum.a * PI / 180)", "as": "y1"}, {"calculate": "sin(datum.a * PI / 180)", "as": "x2"}, {"calculate": "cos(datum.a * PI / 180)", "as": "y2"}], "mark": {"type": "rule", "stroke": "#222", "strokeWidth": 2.2}, "encoding": {"x": {"field": "x1", "type": "quantitative", "axis": null}, "y": {"field": "y1", "type": "quantitative", "axis": null}, "x2": {"field": "x2"}, "y2": {"field": "y2"}}},
  {"data": {"name": "spokes"}, "transform": [{"calculate": "(1.045 + 0.03 * abs(sin(datum.a * PI / 180))) * sin(datum.a * PI / 180)", "as": "lx"}, {"calculate": "(1.045 + 0.03 * abs(sin(datum.a * PI / 180))) * cos(datum.a * PI / 180)", "as": "ly"}], "mark": {"type": "text", "fontSize": 7, "font": "Liberation Sans", "fill": "#444", "align": "center", "baseline": "middle"}, "encoding": {"x": {"field": "lx", "type": "quantitative", "axis": null}, "y": {"field": "ly", "type": "quantitative", "axis": null}, "text": {"field": "t"}}},
  {"data": {"name": "curves"}, "transform": [{"filter": "datum.p == 4"}, {"calculate": "1 + datum.db / 50", "as": "rn"}, {"calculate": "datum.rn * sin(datum.a * PI / 180)", "as": "cx"}, {"calculate": "datum.rn * cos(datum.a * PI / 180)", "as": "cy"}], "mark": {"type": "line", "interpolate": "cardinal-closed", "stroke": "#262626", "strokeWidth": 2}, "encoding": {"x": {"field": "cx", "type": "quantitative", "axis": null}, "y": {"field": "cy", "type": "quantitative", "axis": null}, "order": {"field": "a", "type": "quantitative"}, "strokeDash": {"field": "k", "type": "nominal", "scale": {"domain": [1, 2, 3], "range": [[1, 0], [16, 6], [6, 5]]}, "legend": null}}}
 ]}
], "spacing": 23, "bounds": "flush", "resolve": {"scale": {"x": "independent", "y": "independent", "size": "independent", "strokeDash": "independent"}}},
{"width": 1329, "height": 120, "data": {"name": "legend"}, "layer": [
  {"mark": {"type": "text", "align": "right", "baseline": "middle", "fontSize": 20, "fontWeight": "bold", "font": "Liberation Sans", "fill": "#333"}, "encoding": {"x": {"field": "g", "type": "quantitative", "scale": {"domain": [0.67, 4.508], "nice": false, "zero": false}, "axis": null}, "y": {"field": "k", "type": "quantitative", "scale": {"domain": [0.31, 3.74], "reverse": true, "nice": false, "zero": false}, "axis": null}, "text": {"field": "label"}}},
  {"mark": {"type": "rule", "stroke": "#333", "strokeWidth": 2.5, "xOffset": 9, "x2Offset": 120}, "encoding": {"x": {"field": "g", "type": "quantitative", "axis": null}, "x2": {"field": "g"}, "y": {"field": "k", "type": "quantitative", "axis": null}, "strokeDash": {"field": "k", "type": "nominal", "scale": {"domain": [1, 2, 3], "range": [[1, 0], [24, 29], [10, 23]]}, "legend": null}}}
]},
{"hconcat": [
 {"width": 315, "height": 315, "layer": [
  {"data": {"name": "rings"}, "transform": [{"calculate": "1 + datum.db / 50", "as": "rn"}], "mark": {"type": "point", "shape": "circle", "filled": false, "stroke": "#444", "strokeWidth": 1, "opacity": 1}, "encoding": {"x": {"datum": 0, "type": "quantitative", "scale": {"domain": [-1.1, 1.1], "nice": false, "zero": false}, "axis": null}, "y": {"datum": 0, "type": "quantitative", "scale": {"domain": [-1.1, 1.1], "nice": false, "zero": false}, "axis": null}, "size": {"field": "rn", "type": "quantitative", "scale": {"type": "pow", "exponent": 2, "domain": [0, 1], "range": [0, 82002]}, "legend": null}}},
  {"data": {"name": "spokes"}, "transform": [{"calculate": "0.2 * sin(datum.a * PI / 180)", "as": "x1"}, {"calculate": "0.2 * cos(datum.a * PI / 180)", "as": "y1"}, {"calculate": "sin(datum.a * PI / 180)", "as": "x2"}, {"calculate": "cos(datum.a * PI / 180)", "as": "y2"}], "mark": {"type": "rule", "stroke": "#444", "strokeWidth": 1}, "encoding": {"x": {"field": "x1", "type": "quantitative", "axis": null}, "y": {"field": "y1", "type": "quantitative", "axis": null}, "x2": {"field": "x2"}, "y2": {"field": "y2"}}},
  {"data": {"name": "spokes"}, "transform": [{"calculate": "(1.045 + 0.03 * abs(sin(datum.a * PI / 180))) * sin(datum.a * PI / 180)", "as": "lx"}, {"calculate": "(1.045 + 0.03 * abs(sin(datum.a * PI / 180))) * cos(datum.a * PI / 180)", "as": "ly"}], "mark": {"type": "text", "fontSize": 7, "font": "Liberation Sans", "fill": "#444", "align": "center", "baseline": "middle"}, "encoding": {"x": {"field": "lx", "type": "quantitative", "axis": null}, "y": {"field": "ly", "type": "quantitative", "axis": null}, "text": {"field": "t"}}},
  {"data": {"name": "curves"}, "transform": [{"filter": "datum.p == 5"}, {"calculate": "1 + datum.db / 50", "as": "rn"}, {"calculate": "datum.rn * sin(datum.a * PI / 180)", "as": "cx"}, {"calculate": "datum.rn * cos(datum.a * PI / 180)", "as": "cy"}], "mark": {"type": "line", "interpolate": "cardinal-closed", "stroke": "#262626", "strokeWidth": 2}, "encoding": {"x": {"field": "cx", "type": "quantitative", "axis": null}, "y": {"field": "cy", "type": "quantitative", "axis": null}, "order": {"field": "a", "type": "quantitative"}, "strokeDash": {"field": "k", "type": "nominal", "scale": {"domain": [1, 2, 3], "range": [[1, 0], [16, 6], [6, 5]]}, "legend": null}}}
 ]},
 {"width": 315, "height": 315, "layer": [
  {"data": {"name": "rings"}, "transform": [{"calculate": "1 + datum.db / 50", "as": "rn"}], "mark": {"type": "point", "shape": "circle", "filled": false, "stroke": "#444", "strokeWidth": 1, "opacity": 1}, "encoding": {"x": {"datum": 0, "type": "quantitative", "scale": {"domain": [-1.1, 1.1], "nice": false, "zero": false}, "axis": null}, "y": {"datum": 0, "type": "quantitative", "scale": {"domain": [-1.1, 1.1], "nice": false, "zero": false}, "axis": null}, "size": {"field": "rn", "type": "quantitative", "scale": {"type": "pow", "exponent": 2, "domain": [0, 1], "range": [0, 82002]}, "legend": null}}},
  {"data": {"name": "spokes"}, "transform": [{"calculate": "0.2 * sin(datum.a * PI / 180)", "as": "x1"}, {"calculate": "0.2 * cos(datum.a * PI / 180)", "as": "y1"}, {"calculate": "sin(datum.a * PI / 180)", "as": "x2"}, {"calculate": "cos(datum.a * PI / 180)", "as": "y2"}], "mark": {"type": "rule", "stroke": "#444", "strokeWidth": 1}, "encoding": {"x": {"field": "x1", "type": "quantitative", "axis": null}, "y": {"field": "y1", "type": "quantitative", "axis": null}, "x2": {"field": "x2"}, "y2": {"field": "y2"}}},
  {"data": {"name": "spokes"}, "transform": [{"filter": "datum.a == 90 || datum.a == 270"}, {"calculate": "0.2 * sin(datum.a * PI / 180)", "as": "x1"}, {"calculate": "0.2 * cos(datum.a * PI / 180)", "as": "y1"}, {"calculate": "sin(datum.a * PI / 180)", "as": "x2"}, {"calculate": "cos(datum.a * PI / 180)", "as": "y2"}], "mark": {"type": "rule", "stroke": "#222", "strokeWidth": 2.2}, "encoding": {"x": {"field": "x1", "type": "quantitative", "axis": null}, "y": {"field": "y1", "type": "quantitative", "axis": null}, "x2": {"field": "x2"}, "y2": {"field": "y2"}}},
  {"data": {"name": "spokes"}, "transform": [{"calculate": "(1.045 + 0.03 * abs(sin(datum.a * PI / 180))) * sin(datum.a * PI / 180)", "as": "lx"}, {"calculate": "(1.045 + 0.03 * abs(sin(datum.a * PI / 180))) * cos(datum.a * PI / 180)", "as": "ly"}], "mark": {"type": "text", "fontSize": 7, "font": "Liberation Sans", "fill": "#444", "align": "center", "baseline": "middle"}, "encoding": {"x": {"field": "lx", "type": "quantitative", "axis": null}, "y": {"field": "ly", "type": "quantitative", "axis": null}, "text": {"field": "t"}}},
  {"data": {"name": "curves"}, "transform": [{"filter": "datum.p == 6"}, {"calculate": "1 + datum.db / 50", "as": "rn"}, {"calculate": "datum.rn * sin(datum.a * PI / 180)", "as": "cx"}, {"calculate": "datum.rn * cos(datum.a * PI / 180)", "as": "cy"}], "mark": {"type": "line", "interpolate": "cardinal-closed", "stroke": "#262626", "strokeWidth": 2}, "encoding": {"x": {"field": "cx", "type": "quantitative", "axis": null}, "y": {"field": "cy", "type": "quantitative", "axis": null}, "order": {"field": "a", "type": "quantitative"}, "strokeDash": {"field": "k", "type": "nominal", "scale": {"domain": [1, 2, 3], "range": [[1, 0], [16, 6], [6, 5]]}, "legend": null}}},
  {"data": {"values": [{}]}, "mark": {"type": "text", "fontSize": 20, "fontWeight": "bold", "font": "Liberation Sans", "fill": "#333", "align": "center", "baseline": "middle", "lineHeight": 21}, "encoding": {"x": {"datum": 1.163, "type": "quantitative", "axis": null}, "y": {"datum": -0.859, "type": "quantitative", "axis": null}, "text": {"value": ["VERTICAL", "Level Adjusted"]}}}
 ]},
 {"width": 315, "height": 315, "layer": [
  {"data": {"name": "rings"}, "transform": [{"calculate": "1 + datum.db / 50", "as": "rn"}], "mark": {"type": "point", "shape": "circle", "filled": false, "stroke": "#444", "strokeWidth": 1, "opacity": 1}, "encoding": {"x": {"datum": 0, "type": "quantitative", "scale": {"domain": [-1.1, 1.1], "nice": false, "zero": false}, "axis": null}, "y": {"datum": 0, "type": "quantitative", "scale": {"domain": [-1.1, 1.1], "nice": false, "zero": false}, "axis": null}, "size": {"field": "rn", "type": "quantitative", "scale": {"type": "pow", "exponent": 2, "domain": [0, 1], "range": [0, 82002]}, "legend": null}}},
  {"data": {"name": "spokes"}, "transform": [{"calculate": "0.2 * sin(datum.a * PI / 180)", "as": "x1"}, {"calculate": "0.2 * cos(datum.a * PI / 180)", "as": "y1"}, {"calculate": "sin(datum.a * PI / 180)", "as": "x2"}, {"calculate": "cos(datum.a * PI / 180)", "as": "y2"}], "mark": {"type": "rule", "stroke": "#444", "strokeWidth": 1}, "encoding": {"x": {"field": "x1", "type": "quantitative", "axis": null}, "y": {"field": "y1", "type": "quantitative", "axis": null}, "x2": {"field": "x2"}, "y2": {"field": "y2"}}},
  {"data": {"name": "spokes"}, "transform": [{"filter": "datum.a == 90 || datum.a == 270"}, {"calculate": "0.2 * sin(datum.a * PI / 180)", "as": "x1"}, {"calculate": "0.2 * cos(datum.a * PI / 180)", "as": "y1"}, {"calculate": "sin(datum.a * PI / 180)", "as": "x2"}, {"calculate": "cos(datum.a * PI / 180)", "as": "y2"}], "mark": {"type": "rule", "stroke": "#222", "strokeWidth": 2.2}, "encoding": {"x": {"field": "x1", "type": "quantitative", "axis": null}, "y": {"field": "y1", "type": "quantitative", "axis": null}, "x2": {"field": "x2"}, "y2": {"field": "y2"}}},
  {"data": {"name": "spokes"}, "transform": [{"calculate": "(1.045 + 0.03 * abs(sin(datum.a * PI / 180))) * sin(datum.a * PI / 180)", "as": "lx"}, {"calculate": "(1.045 + 0.03 * abs(sin(datum.a * PI / 180))) * cos(datum.a * PI / 180)", "as": "ly"}], "mark": {"type": "text", "fontSize": 7, "font": "Liberation Sans", "fill": "#444", "align": "center", "baseline": "middle"}, "encoding": {"x": {"field": "lx", "type": "quantitative", "axis": null}, "y": {"field": "ly", "type": "quantitative", "axis": null}, "text": {"field": "t"}}},
  {"data": {"name": "curves"}, "transform": [{"filter": "datum.p == 7"}, {"calculate": "1 + datum.db / 50", "as": "rn"}, {"calculate": "datum.rn * sin(datum.a * PI / 180)", "as": "cx"}, {"calculate": "datum.rn * cos(datum.a * PI / 180)", "as": "cy"}], "mark": {"type": "line", "interpolate": "cardinal-closed", "stroke": "#262626", "strokeWidth": 2}, "encoding": {"x": {"field": "cx", "type": "quantitative", "axis": null}, "y": {"field": "cy", "type": "quantitative", "axis": null}, "order": {"field": "a", "type": "quantitative"}, "strokeDash": {"field": "k", "type": "nominal", "scale": {"domain": [1, 2, 3], "range": [[1, 0], [16, 6], [6, 5]]}, "legend": null}}}
 ]},
 {"width": 315, "height": 315, "layer": [
  {"data": {"name": "rings"}, "transform": [{"calculate": "1 + datum.db / 50", "as": "rn"}], "mark": {"type": "point", "shape": "circle", "filled": false, "stroke": "#444", "strokeWidth": 1, "opacity": 1}, "encoding": {"x": {"datum": 0, "type": "quantitative", "scale": {"domain": [-1.1, 1.1], "nice": false, "zero": false}, "axis": null}, "y": {"datum": 0, "type": "quantitative", "scale": {"domain": [-1.1, 1.1], "nice": false, "zero": false}, "axis": null}, "size": {"field": "rn", "type": "quantitative", "scale": {"type": "pow", "exponent": 2, "domain": [0, 1], "range": [0, 82002]}, "legend": null}}},
  {"data": {"name": "spokes"}, "transform": [{"calculate": "0.2 * sin(datum.a * PI / 180)", "as": "x1"}, {"calculate": "0.2 * cos(datum.a * PI / 180)", "as": "y1"}, {"calculate": "sin(datum.a * PI / 180)", "as": "x2"}, {"calculate": "cos(datum.a * PI / 180)", "as": "y2"}], "mark": {"type": "rule", "stroke": "#444", "strokeWidth": 1}, "encoding": {"x": {"field": "x1", "type": "quantitative", "axis": null}, "y": {"field": "y1", "type": "quantitative", "axis": null}, "x2": {"field": "x2"}, "y2": {"field": "y2"}}},
  {"data": {"name": "spokes"}, "transform": [{"calculate": "(1.045 + 0.03 * abs(sin(datum.a * PI / 180))) * sin(datum.a * PI / 180)", "as": "lx"}, {"calculate": "(1.045 + 0.03 * abs(sin(datum.a * PI / 180))) * cos(datum.a * PI / 180)", "as": "ly"}], "mark": {"type": "text", "fontSize": 7, "font": "Liberation Sans", "fill": "#444", "align": "center", "baseline": "middle"}, "encoding": {"x": {"field": "lx", "type": "quantitative", "axis": null}, "y": {"field": "ly", "type": "quantitative", "axis": null}, "text": {"field": "t"}}},
  {"data": {"name": "curves"}, "transform": [{"filter": "datum.p == 8"}, {"calculate": "1 + datum.db / 50", "as": "rn"}, {"calculate": "datum.rn * sin(datum.a * PI / 180)", "as": "cx"}, {"calculate": "datum.rn * cos(datum.a * PI / 180)", "as": "cy"}], "mark": {"type": "line", "interpolate": "cardinal-closed", "stroke": "#262626", "strokeWidth": 2}, "encoding": {"x": {"field": "cx", "type": "quantitative", "axis": null}, "y": {"field": "cy", "type": "quantitative", "axis": null}, "order": {"field": "a", "type": "quantitative"}, "strokeDash": {"field": "k", "type": "nominal", "scale": {"domain": [1, 2, 3], "range": [[1, 0], [16, 6], [6, 5]]}, "legend": null}}}
 ]}
], "spacing": 23, "bounds": "flush", "resolve": {"scale": {"x": "independent", "y": "independent", "size": "independent", "strokeDash": "independent"}}}
]
}
